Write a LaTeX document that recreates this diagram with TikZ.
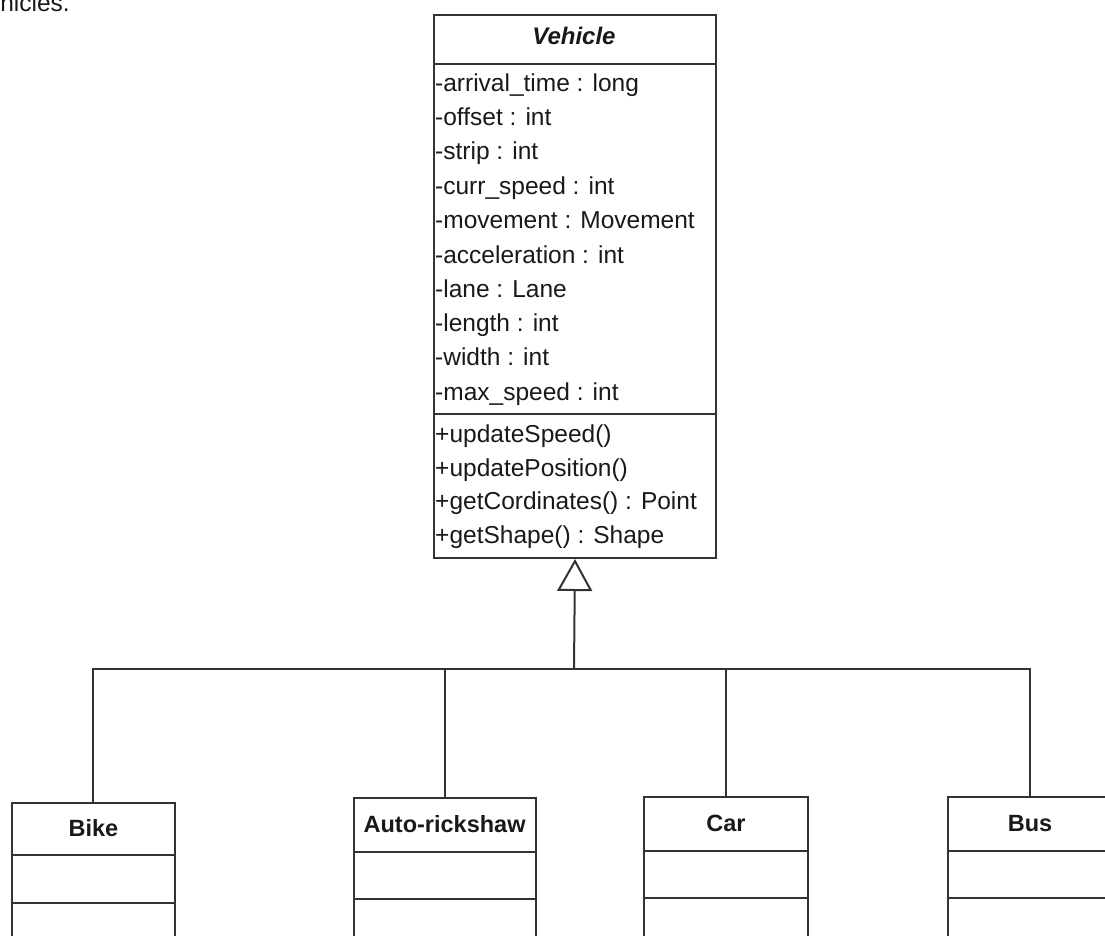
\documentclass[tikz,border=0pt]{standalone}
\usepackage{fontspec}
\setmainfont{Liberation Sans}
\usetikzlibrary{arrows.meta}
\begin{document}
\begin{tikzpicture}[x=1pt,y=-1pt,
  classbox/.style={draw=black!80, line width=2pt, inner sep=0pt, fill=none},
  sep/.style={draw=black!80, line width=2pt},
  conn/.style={draw=black!80, line width=2pt},
  attr/.style={inner sep=0pt, anchor=base west, text=black!90, font=\fontsize{24.5}{30}\selectfont},
  cname/.style={inner sep=0pt, anchor=base, text=black!90, font=\fontsize{23.5}{28}\selectfont\bfseries},
  inherit/.style={conn, -{Triangle[open, length=32pt, width=35pt, fill=white]}}
]
\useasboundingbox (0,0) rectangle (1105,936);
\clip (0,0) rectangle (1105,936);

% cut-off caption at the top left
\node[inner sep=0pt, anchor=base east, text=black!90, font=\fontsize{24.5}{30}\selectfont] (caption) at (70,12) {vehicles.};

% Vehicle class
\node[classbox, minimum width=282pt, minimum height=543pt, anchor=north west] (vehicle) at (433,14) {};
\draw[sep] (vehicle.west |- 0,64) -- (vehicle.east |- 0,64);
\draw[sep] (vehicle.west |- 0,414) -- (vehicle.east |- 0,414);
\node[cname, font=\fontsize{24}{28}\selectfont\bfseries\itshape] (vname) at (574,45) {Vehicle};

\node[attr] (a1) at (435,92) {-arrival\_time : long};
\node[attr] (a2) at (435,126) {-offset : int};
\node[attr] (a3) at (435,160) {-strip : int};
\node[attr] (a4) at (435,194.5) {-curr\_speed : int};
\node[attr] (a5) at (435,229) {-movement : Movement};
\node[attr] (a6) at (435,263) {-acceleration : int};
\node[attr] (a7) at (435,297) {-lane : Lane};
\node[attr] (a8) at (435,331) {-length : int};
\node[attr] (a9) at (435,365.5) {-width : int};
\node[attr] (a10) at (435,400) {-max\_speed : int};

\node[attr] (m1) at (435,442) {+updateSpeed()};
\node[attr] (m2) at (435,476) {+updatePosition()};
\node[attr] (m3) at (435,509.5) {+getCordinates() : Point};
\node[attr] (m4) at (435,543) {+getShape() : Shape};

% subclasses
\node[classbox, minimum width=163pt, minimum height=200pt, anchor=north] (bike) at (93.4,802) {};
\draw[sep] (bike.west |- 0,855) -- (bike.east |- 0,855);
\draw[sep] (bike.west |- 0,903) -- (bike.east |- 0,903);
\node[cname] (bikename) at (93.4,836) {Bike};

\node[classbox, minimum width=182pt, minimum height=200pt, anchor=north] (auto) at (444.6,797) {};
\draw[sep] (auto.west |- 0,852) -- (auto.east |- 0,852);
\draw[sep] (auto.west |- 0,899) -- (auto.east |- 0,899);
\node[cname] (autoname) at (444.6,832) {Auto-rickshaw};

\node[classbox, minimum width=164.5pt, minimum height=200pt, anchor=north] (car) at (726,796) {};
\draw[sep] (car.west |- 0,851) -- (car.east |- 0,851);
\draw[sep] (car.west |- 0,897.5) -- (car.east |- 0,897.5);
\node[cname] (carname) at (726,831) {Car};

\node[classbox, minimum width=165pt, minimum height=200pt, anchor=north] (bus) at (1030,796) {};
\draw[sep] (bus.west |- 0,851) -- (bus.east |- 0,851);
\draw[sep] (bus.west |- 0,897.5) -- (bus.east |- 0,897.5);
\node[cname] (busname) at (1030,831) {Bus};

% generalization connectors
\coordinate (junction) at (574,669);
\draw[conn] (bike.north) |- (junction);
\draw[conn] (auto.north) |- (junction);
\draw[conn] (car.north) |- (junction);
\draw[conn] (bus.north) |- (junction);
\draw[inherit] (junction) -- (vehicle.south);
\end{tikzpicture}
\end{document}
